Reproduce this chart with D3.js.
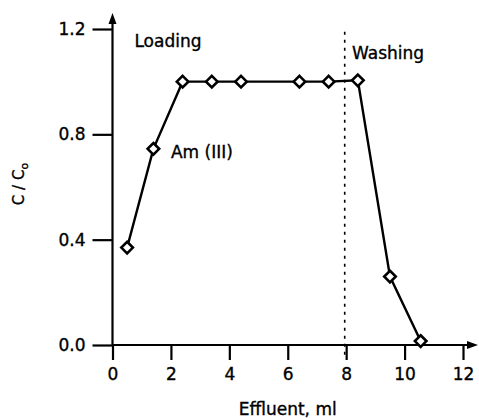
<!DOCTYPE html>
<html>
<head>
<meta charset="utf-8">
<script src="https://cdn.jsdelivr.net/npm/d3@7"></script>
<style>
  html, body { margin: 0; padding: 0; background: #fff; }
  svg { display: block; }
  text { font-family: "DejaVu Sans", sans-serif; fill: #000; stroke: #000; stroke-width: 0.35px; }
</style>
</head>
<body>
<svg id="chart" width="479" height="418"></svg>
<script>
const effluent = [0.5, 1.4, 2.4, 3.4, 4.4, 6.4, 7.4, 8.4, 9.5, 10.55];
const ratio    = [0.37, 0.745, 1.0, 1.0, 1.0, 1.0, 1.0, 1.005, 0.26, 0.015];
const xTicks = [0, 2, 4, 6, 8, 10, 12];
const yTicks = [0.0, 0.4, 0.8, 1.2];
const washStart = 7.95;
const labels = [
  { text: "Loading", x: 0.75, y: 1.13 },
  { text: "Am (III)", x: 2.0, y: 0.71 },
  { text: "Washing", x: 8.2, y: 1.085 }
];

const svg = d3.select("#chart");
const x = d3.scaleLinear().domain([0, 12]).range([112.5, 463]);
const y = d3.scaleLinear().domain([0, 1.2]).range([345, 29]);

// axes
const xAxis = d3.axisBottom(x).tickValues(xTicks).tickSize(15).tickPadding(8)
  .tickFormat(d3.format("d"));
const gx = svg.append("g").attr("transform", `translate(0,${y(0)})`).call(xAxis);
gx.select(".domain").remove();
gx.selectAll(".tick line").attr("stroke", "#000").attr("stroke-width", 2.2);
gx.selectAll(".tick text").attr("font-size", 17).attr("fill", "#000");

const yAxis = d3.axisLeft(y).tickValues(yTicks).tickSize(20).tickPadding(7)
  .tickFormat(d3.format(".1f"));
const gy = svg.append("g").attr("transform", `translate(${x(0)},0)`).call(yAxis);
gy.select(".domain").remove();
gy.selectAll(".tick line").attr("stroke", "#000").attr("stroke-width", 2.2);
gy.selectAll(".tick text").attr("font-size", 17).attr("fill", "#000");

// axis lines with arrows
svg.append("line").attr("x1", x(0)).attr("x2", x(0)).attr("y1", y(0)).attr("y2", 18)
  .attr("stroke", "#000").attr("stroke-width", 2.2);
svg.append("path").attr("d", `M${x(0)},13 L${x(0) - 4},24 L${x(0) + 4},24 Z`).attr("fill", "#000");
svg.append("line").attr("x1", x(0)).attr("x2", 472).attr("y1", y(0)).attr("y2", y(0))
  .attr("stroke", "#000").attr("stroke-width", 2.2);
svg.append("path").attr("d", `M478,${y(0)} L467,${y(0) - 4} L467,${y(0) + 4} Z`).attr("fill", "#000");

// washing divider
svg.append("line").attr("x1", x(washStart)).attr("x2", x(washStart))
  .attr("y1", y(1.19)).attr("y2", y(0) + 12)
  .attr("stroke", "#000").attr("stroke-width", 1.6).attr("stroke-dasharray", "3,5");

// data line
const pts = effluent.map((v, i) => [v, ratio[i]]);
svg.append("path").datum(pts)
  .attr("d", d3.line().x(d => x(d[0])).y(d => y(d[1])))
  .attr("fill", "none").attr("stroke", "#000").attr("stroke-width", 2.4);

svg.selectAll("path.mk").data(pts).enter().append("path").attr("class", "mk")
  .attr("d", d3.symbol().type(d3.symbolDiamond2).size(85))
  .attr("transform", d => `translate(${x(d[0])},${y(d[1])})`)
  .attr("fill", "#fff").attr("stroke", "#000").attr("stroke-width", 2.6);

// text labels
svg.selectAll("text.lbl").data(labels).enter().append("text").attr("class", "lbl")
  .attr("x", d => x(d.x)).attr("y", d => y(d.y)).attr("font-size", 17).text(d => d.text);

// axis titles
svg.append("text").attr("x", x(6)).attr("y", 415).attr("text-anchor", "middle")
  .attr("font-size", 17).text("Effluent, ml");
const yt = svg.append("text").attr("transform", "translate(24,184) rotate(-90)")
  .attr("text-anchor", "middle").attr("font-size", 15).attr("fill", "#000");
yt.append("tspan").attr("fill", "#000").text("C / C");
yt.append("tspan").attr("fill", "#000").attr("font-size", 11).attr("dy", 4).text("o");
</script>
</body>
</html>
